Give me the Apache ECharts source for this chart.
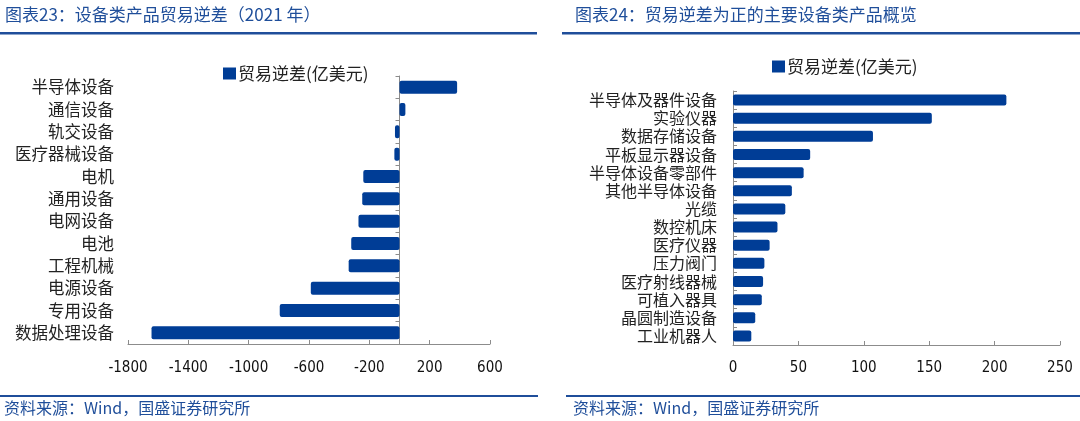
<!DOCTYPE html>
<html><head><meta charset="utf-8">
<script src="https://cdn.jsdelivr.net/npm/echarts@6/dist/echarts.min.js"></script>
<style>html,body{margin:0;padding:0;background:#fff}#c{width:1080px;height:421px}</style>
</head><body><div id="c"></div>
<script>
const seriesName = '贸易逆差(亿美元)';
const leftCategories = ['半导体设备','通信设备','轨交设备','医疗器械设备','电机','通用设备','电网设备','电池','工程机械','电源设备','专用设备','数据处理设备'];
const leftValues = [382, 39, -30, -34, -240, -247, -272, -320, -337, -588, -794, -1644];
const leftTicks = [-1800, -1400, -1000, -600, -200, 200, 600];
const rightCategories = ['半导体及器件设备','实验仪器','数据存储设备','平板显示器设备','半导体设备零部件','其他半导体设备','光缆','数控机床','医疗仪器','压力阀门','医疗射线器械','可植入器具','晶圆制造设备','工业机器人'];
const rightValues = [209, 152, 107, 59, 54, 45, 40, 34, 28, 24, 23, 22, 17, 14];
const rightTicks = [0, 50, 100, 150, 200, 250];

const blue = '#003D96';
const titleBlue = '#1F4E9A';
const axisGray = '#8C8C8C';
const cjk = '"Noto Sans CJK SC", sans-serif';
const num = '"DejaVu Sans Condensed", "Liberation Sans Narrow", "Liberation Sans", sans-serif';

const chart = echarts.init(document.getElementById('c'));
chart.setOption({
  animation: false,
  title: [
    {text: '图表23：设备类产品贸易逆差（2021 年）', left: 5, top: 6, padding: 0, textStyle: {color: titleBlue, fontSize: 17, fontWeight: 'normal', fontFamily: cjk}},
    {text: '图表24：贸易逆差为正的主要设备类产品概览', left: 575, top: 6, padding: 0, textStyle: {color: titleBlue, fontSize: 17, fontWeight: 'normal', fontFamily: cjk}},
    {text: '资料来源：Wind，国盛证券研究所', left: 4, top: 400, padding: 0, textStyle: {color: titleBlue, fontSize: 16, fontWeight: 'normal', fontFamily: cjk}},
    {text: '资料来源：Wind，国盛证券研究所', left: 573, top: 400, padding: 0, textStyle: {color: titleBlue, fontSize: 16, fontWeight: 'normal', fontFamily: cjk}}
  ],
  graphic: [
    {type: 'rect', shape: {x: 0, y: 32, width: 537, height: 2.5}, style: {fill: titleBlue}},
    {type: 'rect', shape: {x: 562, y: 32, width: 518, height: 2.5}, style: {fill: titleBlue}},
    {type: 'rect', shape: {x: 0, y: 395, width: 538, height: 2}, style: {fill: titleBlue}},
    {type: 'rect', shape: {x: 566, y: 395, width: 514, height: 2}, style: {fill: titleBlue}}
  ],
  legend: [
    {data: [seriesName], left: 223, top: 65, padding: 0, itemWidth: 13, itemHeight: 12, itemGap: 2, icon: 'rect',
     textStyle: {fontSize: 17, fontFamily: cjk, color: '#222', padding: [0, 0, 0, -3]}},
    {data: [seriesName], left: 772, top: 58, padding: 0, itemWidth: 13, itemHeight: 12, itemGap: 2, icon: 'rect',
     textStyle: {fontSize: 17, fontFamily: cjk, color: '#222', padding: [0, 0, 0, -3]}}
  ],
  grid: [
    {left: 128, right: 590, top: 76, bottom: 77},
    {left: 733, right: 20, top: 91, bottom: 76}
  ],
  xAxis: [
    {gridIndex: 0, type: 'value', min: leftTicks[0], max: leftTicks[leftTicks.length-1], interval: 400,
     splitLine: {show: false},
     axisLine: {show: true, onZero: false, lineStyle: {color: axisGray}},
     axisTick: {show: true, inside: true, length: 4, lineStyle: {color: axisGray}},
     axisLabel: {fontSize: 15, color: '#111', fontFamily: num, margin: 17, formatter: v => String(v)}},
    {gridIndex: 1, type: 'value', min: rightTicks[0], max: rightTicks[rightTicks.length-1], interval: 50,
     splitLine: {show: false},
     axisLine: {show: true, onZero: false, lineStyle: {color: axisGray}},
     axisTick: {show: true, inside: true, length: 4, lineStyle: {color: axisGray}},
     axisLabel: {fontSize: 15, color: '#111', fontFamily: num, margin: 16, formatter: v => String(v)}}
  ],
  yAxis: [
    {gridIndex: 0, type: 'category', data: leftCategories, inverse: true,
     axisLine: {show: false, onZero: false}, axisTick: {show: false},
     axisLabel: {fontSize: 16.5, color: '#222', fontFamily: cjk, margin: 14, interval: 0}},
    {gridIndex: 0, type: 'category', data: leftCategories, inverse: true,
     axisLine: {show: true, onZero: true, lineStyle: {color: axisGray}},
     axisTick: {show: true, inside: true, length: 4, lineStyle: {color: axisGray}},
     axisLabel: {show: false}},
    {gridIndex: 1, type: 'category', data: rightCategories, inverse: true,
     axisLine: {show: true, onZero: false, lineStyle: {color: axisGray}},
     axisTick: {show: true, inside: true, length: 4, lineStyle: {color: axisGray}},
     axisLabel: {fontSize: 16, color: '#222', fontFamily: cjk, margin: 16, lineHeight: 17, interval: 0, hideOverlap: false}}
  ],
  series: [
    {name: seriesName, type: 'bar', xAxisIndex: 0, yAxisIndex: 0, data: leftValues, barWidth: 13,
     itemStyle: {color: blue, borderRadius: 2}, z: 1},
    {name: seriesName, type: 'bar', xAxisIndex: 1, yAxisIndex: 2, data: rightValues, barWidth: 11,
     itemStyle: {color: blue, borderRadius: 2}}
  ]
});
</script></body></html>
